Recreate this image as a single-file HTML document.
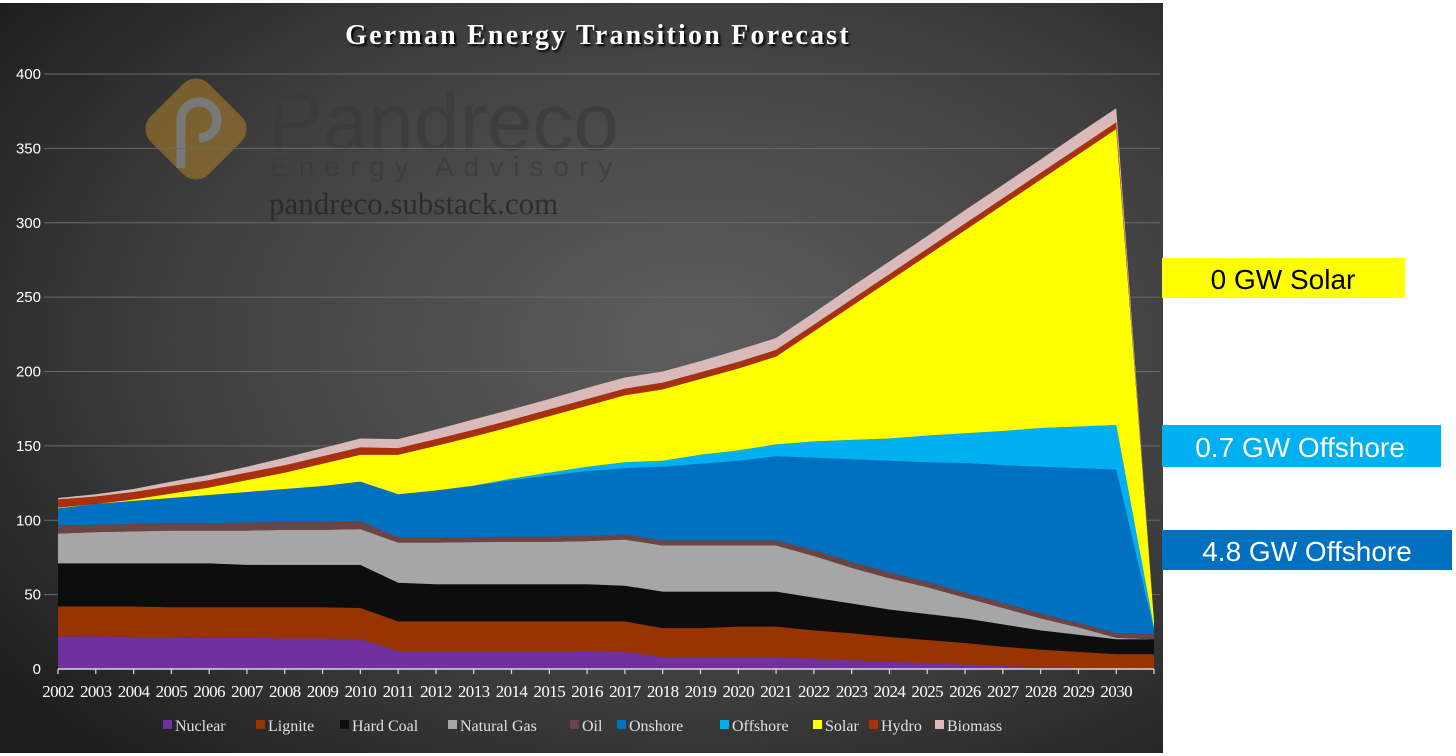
<!DOCTYPE html>
<html><head><meta charset="utf-8"><style>
html,body{margin:0;padding:0;background:#fff;width:1456px;height:756px;overflow:hidden}
svg{display:block}
</style></head><body>
<svg id="chart" width="1456" height="756" xmlns="http://www.w3.org/2000/svg">
<defs>
<radialGradient id="bg" cx="0.6" cy="0.45" r="0.75">
<stop offset="0" stop-color="#5e5e5e"/><stop offset="0.6" stop-color="#3f3f3f"/><stop offset="1" stop-color="#1e1e1e"/>
</radialGradient>
</defs>
<rect x="0" y="3" width="1163" height="750" fill="url(#bg)"/>
<g opacity="0.75">
<rect x="155" y="88" width="82" height="82" rx="18" transform="rotate(45 196 129)" fill="#a87a2a" opacity="0.8"/>
<path d="M181 168 L181 120 A18 18 0 1 1 199 138" fill="none" stroke="#8f8f8f" stroke-width="9"/>
<text x="268" y="150" font-family="Liberation Sans, sans-serif" font-size="82" fill="#3a3a3a" opacity="0.85">Pandreco</text>
<text x="270" y="176" font-family="Liberation Sans, sans-serif" font-size="28" letter-spacing="10" fill="#3a3a3a" opacity="0.85">Energy Advisory</text>
<text x="269" y="214" font-family="Liberation Serif, serif" font-size="31" fill="#222">pandreco.substack.com</text>
</g>
<text x="598" y="44" text-anchor="middle" font-family="Liberation Serif, serif" font-weight="bold" font-size="28" fill="#fff" letter-spacing="2.2" style="text-shadow:2px 2px 2px #000">German Energy Transition Forecast</text>
<g id="grid"></g><g id="areas"></g><g id="axes"></g><g id="legend"></g>
<g>
<rect x="1162" y="258" width="243" height="40" fill="#ffff00"/>
<text x="1283" y="289" text-anchor="middle" font-family="Liberation Sans, sans-serif" font-size="28" fill="#000">0 GW Solar</text></g>
<g>
<rect x="1162" y="425" width="279" height="42" fill="#00b0f0"/>
<text x="1300" y="457" text-anchor="middle" font-family="Liberation Sans, sans-serif" font-size="28" fill="#fff">0.7 GW Offshore</text></g>
<g>
<rect x="1162" y="530" width="290" height="40" fill="#0070c0"/>
<text x="1307" y="561" text-anchor="middle" font-family="Liberation Sans, sans-serif" font-size="28" fill="#fff">4.8 GW Offshore</text></g>
</svg>
<script>
const years = ["2002","2003","2004","2005","2006","2007","2008","2009","2010","2011","2012","2013","2014","2015","2016","2017","2018","2019","2020","2021","2022","2023","2024","2025","2026","2027","2028","2029","2030",""];
const nuclear = [22,22,21.5,21.5,21,21,20.5,20.5,20,12,12,12,12,12,12,11.5,8,8,8,8,7,6,5,4,3,2,1,0.5,0,0];
const lignite = [20,20,20.5,20,20.5,20.5,21,21,21,20,20,20,20,20,20,20.5,19.5,19.5,20.5,20.5,19,18,16.5,15.5,14.5,13,12,11,10,10];
const hardCoal = [29,29,29,29.5,29.5,28.5,28.5,28.5,29,26,25,25,25,25,25,24,24.5,24.5,23.5,23.5,22,20,18.5,17.5,16.5,15,13,11.5,10,10];
const naturalGas = [20,21,21.5,22,22,23,23.5,23.5,24,27,28,28.3,28.5,28.5,29,31,31,31,31,31,28,24,21,18,14,11,8,5,1,0];
const oil = [5.5,5,5,5,5,5.5,5.5,5.5,5.5,3.5,3.5,3.2,3.5,3.5,3.5,3.5,3.5,3.5,3.5,3.5,4,4,4,3.5,3.5,3.5,3.5,3,3,3.5];
const onshore = [11.5,14,15.5,17,19,20.5,22,24,26.5,29,31.5,34.5,38,41,43.5,44.5,49.5,51.5,53.5,56.5,62,69,75,80.5,87,92.5,98.5,104,110,2.5];
const offshore = [0,0,0,0,0,0,0,0,0,0,0,0.3,1,2,3,4,4,6,7,8,11,13,15,18,20,23,26,28,30,2];
const solar = [0.5,0,1,3,5,8,11,15,18,26.5,30,33,35,38,41,45,48,51,55,59,74,90,106,121,136.5,152,167,183,199,4];
const hydro = [5.5,5,5,5,5,5,5,5,5,4.5,4.5,4.5,4.5,4.5,4.5,4.5,4.5,4.5,4.5,4.5,4.5,4.5,4.5,4.5,4.5,4.5,4.5,4.5,4.5,0];
const biomass = [1,1.5,2,3,3.5,4,5,5.5,6,6,6.5,7,7,7,7.5,7.5,7.5,7.5,8,8,8,8.5,8.5,8.5,9,9,9,9.5,9.5,0];
const yTicks = [0,50,100,150,200,250,300,350,400];
const seriesNames = ["Nuclear","Lignite","Hard Coal","Natural Gas","Oil","Onshore","Offshore","Solar","Hydro","Biomass"];

const NS="http://www.w3.org/2000/svg";
const x0=58, x1=1154, y0=669, yTop=74, vMax=400;
const X=i=>x0+(x1-x0)*i/(years.length-1);
const Y=v=>y0-(y0-yTop)*v/vMax;
const series=[nuclear,lignite,hardCoal,naturalGas,oil,onshore,offshore,solar,hydro,biomass];
const colors=["#7030a0","#993300","#0d0d0d","#a6a6a6","#6b4545","#0070c0","#00b0f0","#ffff00","#a8300c","#d9b9b9"];
const slugs=["nuclear","lignite","hard-coal","natural-gas","oil","onshore","offshore","solar","hydro","biomass"];
function mk(t,a,p){const e=document.createElementNS(NS,t);for(const k in a)e.setAttribute(k,a[k]);p.appendChild(e);return e;}
const grid=document.getElementById('grid'),areas=document.getElementById('areas'),axes=document.getElementById('axes'),legend=document.getElementById('legend');
yTicks.forEach(v=>{
  if(v>0){const l=mk('line',{x1:44,x2:1160,y1:Y(v),y2:Y(v),stroke:'#6a6a6a','stroke-width':1},grid);
  
  }
  const t=mk('text',{x:41,y:Y(v)+5,'text-anchor':'end','font-family':'Liberation Sans, sans-serif','font-size':15,fill:'#fff'},axes);
  t.textContent=v;
  
  
});
let base=years.map(()=>0);
series.forEach((s,k)=>{
  const top=base.map((b,i)=>b+s[i]);
  let d='M'+top.map((v,i)=>X(i)+','+Y(v)).join(' L');
  for(let i=years.length-1;i>=0;i--)d+=' L'+X(i)+','+Y(base[i]);
  const p=mk('path',{d:d+'Z',fill:colors[k]},areas);
  
  
  base=top;
});
mk('line',{x1:x0,x2:x1,y1:y0,y2:y0,stroke:'#d9d9d9','stroke-width':1.5},axes);
years.forEach((yr,i)=>{
  mk('line',{x1:X(i),x2:X(i),y1:y0,y2:y0+5,stroke:'#d9d9d9','stroke-width':1.2},axes);
  if(yr){const t=mk('text',{x:X(i),y:697,'text-anchor':'middle','font-family':'Liberation Serif, serif','font-size':17,fill:'#fff','letter-spacing':'-0.6'},axes);
  t.textContent=yr;
  
  }
});
const lx=[163,256,340,448,570,617,720,813,869,935];
seriesNames.forEach((n,k)=>{
  const g=mk('g',{},legend);
  
  
  mk('rect',{x:lx[k],y:720,width:9,height:9,fill:colors[k]},g);
  const t=mk('text',{x:lx[k]+12,y:731,'font-family':'Liberation Serif, serif','font-size':16,fill:'#e0e0e0'},g);
  t.textContent=n;
});
</script>
</body></html>
